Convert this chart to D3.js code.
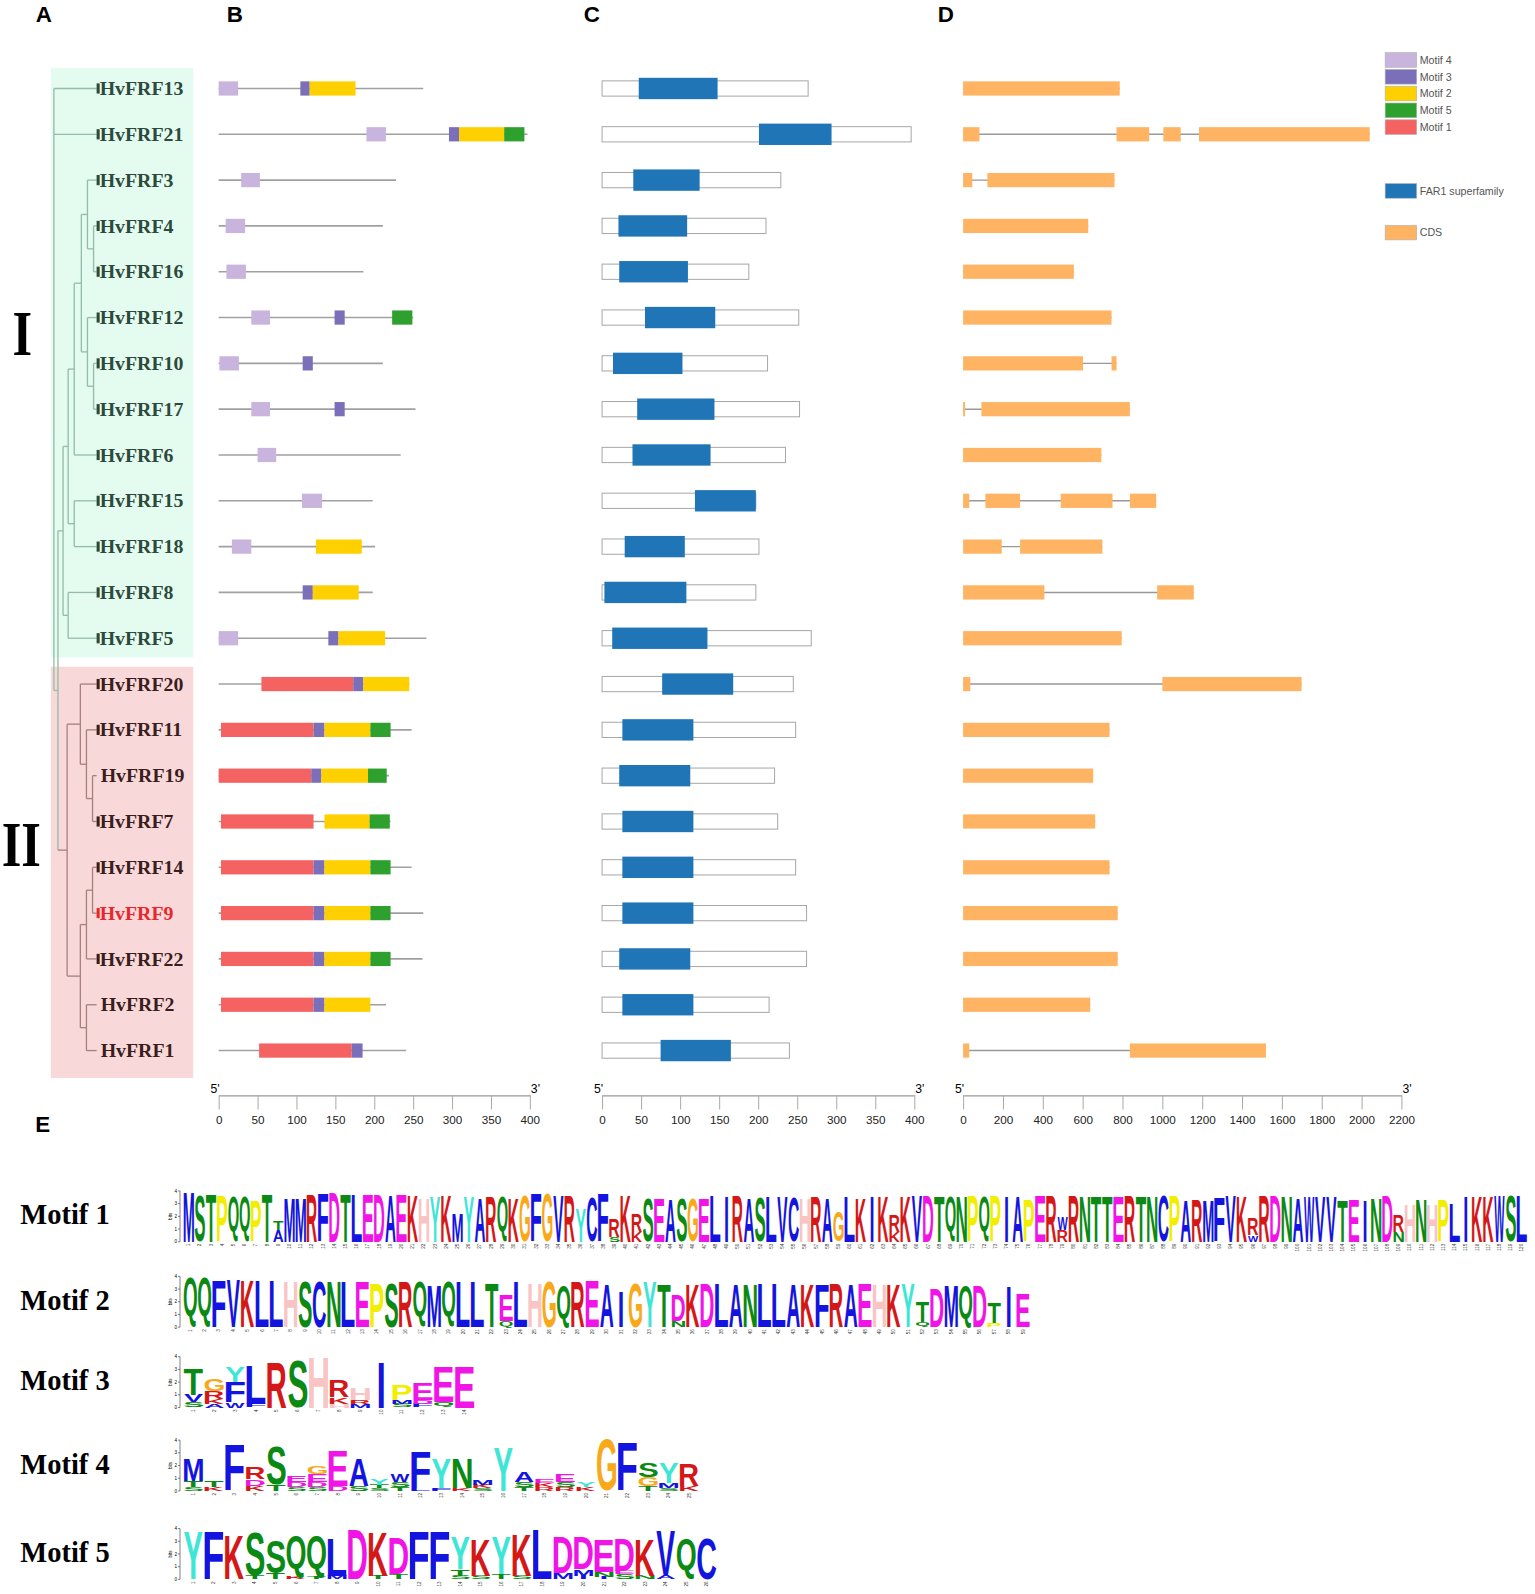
<!DOCTYPE html>
<html><head><meta charset="utf-8">
<script src="https://cdn.jsdelivr.net/npm/d3@7/dist/d3.min.js"></script>
<style>html,body{margin:0;padding:0;background:#fff;} svg{display:block;}</style>
</head><body>
<svg id="fig" width="1535" height="1594"></svg>
<script>
// ---------------- DATA ----------------
const genes = ["HvFRF13","HvFRF21","HvFRF3","HvFRF4","HvFRF16","HvFRF12","HvFRF10","HvFRF17","HvFRF6","HvFRF15","HvFRF18","HvFRF8","HvFRF5","HvFRF20","HvFRF11","HvFRF19","HvFRF7","HvFRF14","HvFRF9","HvFRF22","HvFRF2","HvFRF1"];
const cladeIIGenes = ["HvFRF20","HvFRF11","HvFRF19","HvFRF7","HvFRF14","HvFRF9","HvFRF22","HvFRF2","HvFRF1"];
const highlightedGene = "HvFRF9";
const unmarkedLeaves = ["HvFRF19","HvFRF2","HvFRF1"];
const treeNewick = "(HvFRF13,HvFRF21,((((((HvFRF3,(HvFRF4,HvFRF16):0.06):0.06,(HvFRF12,(HvFRF10,HvFRF17):0.06):0.06):0.07,HvFRF6):0.06,(HvFRF15,HvFRF18):0.06):0.05,(HvFRF8,HvFRF5):0.05):0.05,((HvFRF20,(HvFRF11,(HvFRF19,HvFRF7):0.06):0.06):0.13,(((HvFRF14,HvFRF9):0.06,HvFRF22):0.06,(HvFRF2,HvFRF1):0.06):0.13):0.09):0.04);";

// Panel B: protein length (aa) and motif hits [motif, start, end]
const proteinLenB = [263,397,228,211,186,250,211,253,234,198,201,198,267,245,248,219,221,248,263,262,215,241];
const motifHits = [
  [[4,0,25],[3,105,117],[2,117,176]],
  [[4,190,215],[3,296,309],[2,309,367],[5,367,393]],
  [[4,29,53]],
  [[4,9,34]],
  [[4,10,35]],
  [[4,42,66],[3,149,162],[5,223,249]],
  [[4,1,26],[3,108,121]],
  [[4,42,66],[3,149,162]],
  [[4,50,74]],
  [[4,107,133]],
  [[4,17,42],[2,125,184]],
  [[3,108,121],[2,121,180]],
  [[4,0,25],[3,141,154],[2,154,214]],
  [[1,55,173],[3,173,186],[2,186,245]],
  [[1,3,122],[3,122,136],[2,136,195],[5,195,221]],
  [[1,0,119],[3,119,132],[2,132,192],[5,192,216]],
  [[1,3,122],[2,136,194],[5,194,220]],
  [[1,3,122],[3,122,136],[2,136,195],[5,195,221]],
  [[1,3,122],[3,122,136],[2,136,195],[5,195,221]],
  [[1,3,122],[3,122,136],[2,136,195],[5,195,221]],
  [[1,3,122],[3,122,136],[2,136,195]],
  [[1,52,171],[3,171,185]]
];
// Panel C: protein length and FAR1 domain
const proteinLenC = [264,396,229,210,188,252,212,253,235,197,201,197,268,245,248,221,225,248,262,262,214,240];
const far1Domain = [[47,148],[201,294],[40,125],[21,109],[22,110],[55,145],[14,103],[45,144],[39,139],[119,197],[29,106],[3,108],[13,135],[77,168],[26,117],[22,113],[26,117],[26,117],[26,117],[22,113],[26,117],[75,165]];
// Panel D: CDS segments (bp)
const cdsSegments = [
  [[0,786]],
  [[0,82],[770,934],[1005,1092],[1184,2041]],
  [[0,46],[122,760]],
  [[0,628]],
  [[0,556]],
  [[0,745]],
  [[0,602],[745,770]],
  [[0,10],[92,837]],
  [[0,694]],
  [[0,31],[112,286],[490,750],[837,969]],
  [[0,194],[286,699]],
  [[0,408],[974,1158]],
  [[0,796]],
  [[0,36],[1000,1699]],
  [[0,735]],
  [[0,653]],
  [[0,663]],
  [[0,735]],
  [[0,776]],
  [[0,776]],
  [[0,638]],
  [[0,31],[837,1520]]
];
const ticksB = [0,50,100,150,200,250,300,350,400];
const ticksC = [0,50,100,150,200,250,300,350,400];
const ticksD = [0,200,400,600,800,1000,1200,1400,1600,1800,2000,2200];
const legendMotifs = ["Motif 4","Motif 3","Motif 2","Motif 5","Motif 1"];

// Panel E: sequence logos, each column "LetterBits" stacked top-first
const motif1Logo = ["M3.9","S3.6","T3.8","P3.6","Q3.6","Q3.6","P3.2","T3.8","T0.7 A0.9","M3.5","M3.5","R3.7","F3.8","D3.8","T3.8","L3.7","E3.7","D3.7","A3.7","E3.7","K3.7","H3.5","Y3.5","K3.7","M2.2","Y3.5","A3.5","R3.5","Q3.5","K3.5","G3.6","F3.8","G3.8","V3.6","R3.6","Y2.6","C3.5","F3.8","R1.4 S0.4","K3.7","R1.4 K0.8","S3.4","E3.4","A3.4","S3.4","G3.4","E3.4","L3.6","I3.6","R3.6","A3.5","S3.5","L3.5","V3.5","C3.5","H3.5","R3.5","A3.5","G2.4","L3.5","K3.5","I3.6","K3.6","R1.3 K0.8","K3.6","V3.6","D3.6","T3.6","Q3.6","N3.6","P3.6","Q3.6","P3.6","I3.6","A3.6","P3.3","E3.6","R3.6","W1.0 R0.9","R3.6","N3.6","T3.6","T3.6","E3.5","R3.6","T3.6","N3.6","C3.6","P3.6","A3.3","R3.3","M3.3","F3.5","V3.6","K3.6","R1.3 W0.5","R3.6","D3.6","N3.6","A3.5","W3.5","V3.5","V3.5","T3.3","E3.3","I3.3","N3.5","D3.6","R1.3 N0.8","H3.0","N3.4","H3.0","P3.3","L3.0","I3.6","K3.6","K3.6","W3.6","S3.6","L3.6"];
const motif2Logo = ["Q3.9","Q3.9","F3.7","V3.7","K3.7","L3.6","L3.6","H3.6","S3.6","C3.6","N3.6","L3.5","E3.5","P3.5","S3.5","R3.5","Q3.5","M3.3","Q3.5","L3.5","L3.5","T3.5","E2.0 Q0.5","L3.5","H3.5","G3.6","Q3.3","R3.5","E3.6","A3.4","I2.8","G3.5","Y3.5","T3.4","D2.0 N0.5","K3.4","D3.4","L3.4","A3.4","N3.4","L3.4","L3.4","A3.4","K3.4","F3.4","R3.4","A3.4","E3.4","H3.4","K3.4","Y3.4","T1.6 Q0.4","D3.0","M3.3","Q3.3","D3.2","T1.6 P0.3","I3.2","E2.6"];
const motif3Logo = ["T2.0 V0.6 S0.4","G0.9 R0.6 K0.4 A0.3","Y1.2 F1.6 W0.4","L3.0 F0.3","R3.5","S3.7","H4.0","R1.3 K0.5 H0.3","H0.9 R0.3 M0.3","I3.6","P1.2 M0.3 S0.3","E1.3 D0.3 F0.3","E2.7 Q0.4","E3.2"];
const motif4Logo = ["M1.7 T0.5 S0.3","T0.5 K0.3","F3.6","R0.9 D0.5 K0.4","S3.0 T0.5","E0.5 D0.4 S0.3","G0.6 E0.6 D0.4 S0.3","E2.7 D0.4","A2.1 S0.4","Y0.5 T0.3 S0.2","W0.6 S0.4 T0.3","F2.9 L0.2","Y2.3 F0.2","N2.3 K0.2","M0.4 K0.3 S0.2","Y3.4","A0.8 S0.4 T0.3","E0.3 K0.3 R0.3","E0.6 S0.4 R0.3","Y0.4 K0.3","G4.0","F3.8","S1.1 G0.7 T0.4","Y1.6 M0.4 S0.2","R1.7 K0.4"];
const motif5Logo = ["Y3.7","F3.8","K3.5","S3.4 T0.3","S2.6 T0.5","Q3.3 K0.2","Q3.3 T0.2","L2.9 M0.3","D3.8","K3.5 T0.3","D2.8 T0.4","F3.8","F3.8","Y2.5 T0.5 S0.3","K2.9 S0.3","Y2.9 T0.4","K3.3 S0.3","L3.8","D2.8 M0.5","D2.5 M0.5 I0.3","E2.5 N0.4 I0.2","D2.5 E0.3 S0.4","K2.9 N0.3","V3.5 A0.3","Q3.2","C3.2"];
const motifNames = ["Motif 1","Motif 2","Motif 3","Motif 4","Motif 5"];

// ---------------- STYLE ----------------
const motifColor = {1:"#f46262",2:"#ffd000",3:"#7b6fba",4:"#c8b4dc",5:"#2ea02e"};
const motifNameColor = {"Motif 1":motifColor[1],"Motif 2":motifColor[2],"Motif 3":motifColor[3],"Motif 4":motifColor[4],"Motif 5":motifColor[5]};
const far1Color = "#1f75b6", cdsColor = "#ffb464";
const aaColor = L => ("ACFILVWM".includes(L) ? "#1414e0" : "NQST".includes(L) ? "#0a8a14" : "DE".includes(L) ? "#f014e6" : "KR".includes(L) ? "#d41818" : L==="H" ? "#f8c4c4" : L==="G" ? "#f8a818" : L==="P" ? "#f2ee00" : L==="Y" ? "#3ee6d6" : "#000");

const S = 1.017;
const svg = d3.select("#fig");
const g = svg.append("g").attr("transform", `scale(${S})`);

const rowY = d3.scaleLinear().domain([0, genes.length-1]).range([87, 1033]);
const isII = name => cladeIIGenes.includes(name);

// clade boxes
g.append("rect").attr("x",50).attr("y",rowY(0)-20).attr("width",140).attr("height",rowY(12)+19-(rowY(0)-20)).attr("fill","#e4fbef");
g.append("rect").attr("x",50).attr("y",rowY(13)-17).attr("width",140).attr("height",rowY(21)+27-(rowY(13)-17)).attr("fill","#f8d8d8");

// ---------------- TREE ----------------
function parseNewick(s){
  let i=0;
  function node(){
    const n={};
    if(s[i]==='('){ i++; n.children=[]; n.children.push(node()); while(s[i]===','){ i++; n.children.push(node()); } i++; }
    let name=''; while(i<s.length && !',():;'.includes(s[i])) name+=s[i++];
    n.name=name;
    if(s[i]===':'){ i++; let l=''; while(i<s.length && !',();'.includes(s[i])) l+=s[i++]; n.length=+l; } else n.length=0;
    return n;
  }
  return node();
}
const root = d3.hierarchy(parseNewick(treeNewick), d=>d.children);
root.each(d=>{ d.dist = d.parent ? d.parent.dist + d.data.length : 0; });
const treeX = d3.scaleLinear().domain([0,0.1]).range([53,63]);
const leafX = 95;
root.eachAfter(d=>{
  if(!d.children){ d.py = rowY(genes.indexOf(d.data.name)); d.px = leafX; }
  else { d.py = (d.children[0].py + d.children[d.children.length-1].py)/2; d.px = treeX(d.dist); }
});
const nodeColor = d => d.leaves().every(l=>isII(l.data.name)) ? "#a88080" : "#94bcaa";
const tg = g.append("g").attr("fill","none").attr("stroke-width",1.3);
root.descendants().forEach(d=>{
  if(d.parent){
    tg.append("line").attr("x1",d.parent.px).attr("x2",d.px).attr("y1",d.py).attr("y2",d.py).attr("stroke",nodeColor(d));
  }
  if(d.children){
    tg.append("line").attr("x1",d.px).attr("x2",d.px).attr("y1",d.children[0].py).attr("y2",d.children[d.children.length-1].py).attr("stroke",nodeColor(d));
  }
});
// leaf labels
genes.forEach((gname,i)=>{
  const col = gname===highlightedGene ? "#e8262c" : (isII(gname) ? "#3a1e1e" : "#2c4a3c");
  if(!unmarkedLeaves.includes(gname)){
    g.append("rect").attr("x",95).attr("y",rowY(i)-5).attr("width",3).attr("height",10).attr("fill",col);
  }
  g.append("text").attr("x", unmarkedLeaves.includes(gname)?99:98).attr("y",rowY(i)+6.5)
    .attr("font-family","Liberation Serif").attr("font-weight","bold").attr("font-size",19.5)
    .attr("fill",col).text(gname);
});
// roman numerals (condensed)
g.append("text").attr("transform","translate(22,349) scale(0.8,1)").attr("text-anchor","middle").attr("font-family","Liberation Serif").attr("font-weight","bold").attr("font-size",62).text("I");
g.append("text").attr("transform","translate(21,852) scale(0.8,1)").attr("text-anchor","middle").attr("font-family","Liberation Serif").attr("font-weight","bold").attr("font-size",62).text("II");

// panel letters
[["A",43,22],["B",231,22],["C",582,22],["D",930,22],["E",42,1113]].forEach(([t,x,y])=>{
  g.append("text").attr("x",x).attr("y",y).attr("text-anchor","middle").attr("font-family","Liberation Sans").attr("font-weight","bold").attr("font-size",22).text(t);
});

// ---------------- AXES ----------------
const axisY = 1077;
function drawAxis(scale, ticks){
  const ag = g.append("g").attr("transform",`translate(0,${axisY})`);
  const ax = d3.axisBottom(scale).tickValues(ticks).tickFormat(d3.format("d")).tickSize(14).tickPadding(6).tickSizeOuter(0);
  ag.call(ax);
  ag.select(".domain").attr("stroke","#999").attr("stroke-width",1.2);
  ag.selectAll(".tick line").attr("stroke","#aaa");
  ag.selectAll(".tick text").attr("font-family","Liberation Sans").attr("font-size",11.5).attr("fill","#222");
  const [a,b] = scale.range();
  g.append("text").attr("x",a-8).attr("y",axisY-2).attr("font-family","Liberation Sans").attr("font-size",12).text("5'");
  g.append("text").attr("x",b+1).attr("y",axisY-2).attr("font-family","Liberation Sans").attr("font-size",12).text("3'");
}
const xB = d3.scaleLinear().domain([0,400]).range([215,521]);
const xC = d3.scaleLinear().domain([0,400]).range([592,899]);
const xD = d3.scaleLinear().domain([0,2200]).range([947,1378]);
drawAxis(xB, ticksB); drawAxis(xC, ticksC); drawAxis(xD, ticksD);

// ---------------- PANEL B ----------------
genes.forEach((gname,i)=>{
  const y = rowY(i);
  g.append("line").attr("x1",xB(0)).attr("x2",xB(proteinLenB[i])).attr("y1",y).attr("y2",y).attr("stroke","#a0a0a0").attr("stroke-width",1.6);
  motifHits[i].forEach(([m,s,e])=>{
    g.append("rect").attr("x",xB(s)).attr("y",y-7).attr("width",xB(e)-xB(s)).attr("height",14).attr("fill",motifColor[m]);
  });
});
// ---------------- PANEL C ----------------
genes.forEach((gname,i)=>{
  const y = rowY(i);
  g.append("rect").attr("x",xC(0)).attr("y",y-7.5).attr("width",xC(proteinLenC[i])-xC(0)).attr("height",15).attr("fill","#fff").attr("stroke","#a8a8a8").attr("stroke-width",1);
  const [s,e] = far1Domain[i];
  g.append("rect").attr("x",xC(s)).attr("y",y-10.5).attr("width",xC(e)-xC(s)).attr("height",21).attr("fill",far1Color);
});
// ---------------- PANEL D ----------------
genes.forEach((gname,i)=>{
  const y = rowY(i), segs = cdsSegments[i];
  const st = segs[0][0], en = segs[segs.length-1][1];
  g.append("line").attr("x1",xD(st)).attr("x2",xD(en)).attr("y1",y).attr("y2",y).attr("stroke","#999").attr("stroke-width",1.4);
  segs.forEach(([s,e])=>{
    g.append("rect").attr("x",xD(s)).attr("y",y-7).attr("width",Math.max(1.5,xD(e)-xD(s))).attr("height",14).attr("fill",cdsColor);
  });
});
// ---------------- LEGEND ----------------
legendMotifs.forEach((name,i)=>{
  const y = 51.8 + i*16.5;
  g.append("rect").attr("x",1362).attr("y",y).attr("width",31).attr("height",14.4).attr("fill",motifNameColor[name]).attr("stroke","#b0b0b0").attr("stroke-width",0.6);
  g.append("text").attr("x",1396).attr("y",y+11).attr("font-family","Liberation Sans").attr("font-size",10.5).attr("fill","#555").text(name);
});
[["FAR1 superfamily",far1Color,180.5],["CDS",cdsColor,221.5]].forEach(([name,c,y])=>{
  g.append("rect").attr("x",1362).attr("y",y).attr("width",31).attr("height",14.4).attr("fill",c).attr("stroke","#b0b0b0").attr("stroke-width",0.6);
  g.append("text").attr("x",1396).attr("y",y+11).attr("font-family","Liberation Sans").attr("font-size",10.5).attr("fill","#555").text(name);
});

// ---------------- LOGOS ----------------
const cv = document.createElement("canvas"), ctx = cv.getContext("2d");
ctx.font = "bold 100px 'Liberation Sans'";
const metCache = {};
function met(L){
  if(!metCache[L]){ const m = ctx.measureText(L); metCache[L] = {l:m.actualBoundingBoxLeft, r:m.actualBoundingBoxRight, a:m.actualBoundingBoxAscent, d:m.actualBoundingBoxDescent}; }
  return metCache[L];
}
function drawLogo(data, x0, x1, base){
  const n = data.length;
  const xs = d3.scaleBand().domain(d3.range(n)).range([x0,x1]);
  const ys = d3.scaleLinear().domain([0,4]).range([base, base-50]);
  const lg = g.append("g");
  // y axis
  lg.append("line").attr("x1",x0-3).attr("x2",x0-3).attr("y1",ys(0)).attr("y2",ys(4)).attr("stroke","#333").attr("stroke-width",0.6);
  d3.range(0,5).forEach(v=>{
    lg.append("line").attr("x1",x0-5).attr("x2",x0-3).attr("y1",ys(v)).attr("y2",ys(v)).attr("stroke","#333").attr("stroke-width",0.6);
    lg.append("text").attr("x",x0-6).attr("y",ys(v)+1.6).attr("text-anchor","end").attr("font-family","Liberation Sans").attr("font-size",4.5).text(v);
  });
  lg.append("text").attr("transform",`translate(${x0-11},${ys(2)}) rotate(-90)`).attr("text-anchor","middle").attr("font-family","Liberation Sans").attr("font-size",4.5).text("bits");
  data.forEach((colStr,i)=>{
    const stack = colStr.split(" ").map(s=>({L:s[0], h:+s.slice(1)})).reverse();
    let acc = 0;
    stack.forEach(s=>{
      const yTop = ys(acc + s.h), yBot = ys(acc);
      acc += s.h;
      const hpx = yBot - yTop; if(hpx < 0.8) return;
      const m = met(s.L);
      const frac = s.L === "I" ? 0.26 : 0.92;
      const w = xs.bandwidth()*frac;
      const sx = w/(m.l+m.r), sy = hpx/(m.a+m.d);
      const xl = xs(i) + (xs.bandwidth()-w)/2;
      lg.append("text").text(s.L).attr("font-family","Liberation Sans").attr("font-weight","bold").attr("font-size",100)
        .attr("fill",aaColor(s.L))
        .attr("transform",`translate(${xl},${yBot}) scale(${sx},${sy}) translate(${m.l},${-m.d})`);
    });
    lg.append("text").attr("transform",`translate(${xs(i)+xs.bandwidth()/2+1.5},${base+2}) rotate(-90)`).attr("text-anchor","end")
      .attr("font-family","Liberation Sans").attr("font-size",4.5).attr("fill","#333").text(i+1);
  });
}
const logoSpecs = [[motif1Logo,180,1502,1221],[motif2Logo,180,1013,1305],[motif3Logo,180,467,1384],[motif4Logo,180,688,1466],[motif5Logo,180,705,1553]];
logoSpecs.forEach(([d,a,b,base],k)=>{
  drawLogo(d,a,b,base);
  g.append("text").attr("x",20).attr("y",base-17).attr("font-family","Liberation Serif").attr("font-weight","bold").attr("font-size",28).text(motifNames[k]);
});
</script></body></html>
